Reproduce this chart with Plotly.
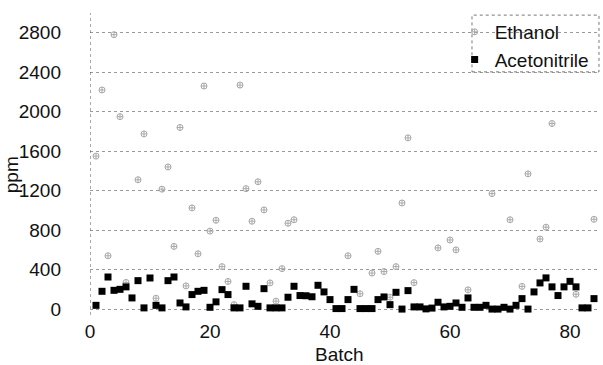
import plotly.graph_objects as go

batch = list(range(1, 85))

ethanol = [1550, 2220, 540, 2780, 1950, 270, None, 1310, 1775, None,
           110, 1215, 1440, 635, 1840, 235, 1025, 560, 2260, 790,
           900, 430, 280, 45, 2270, 1220, 890, 1290, 1005, 265,
           80, 410, 870, 905, None, None, None, None, None, None,
           None, None, 540, None, 155, None, 365, 585, 380, 120,
           430, 1075, 1735, 268, None, None, None, 620, None, 700,
           600, None, 195, None, None, None, 1170, None, None, 905,
           None, 230, 1370, None, 710, 830, 1880, None, None, None,
           150, None, None, 910]

acetonitrile = [38, 180, 325, 190, 200, 225, 113, 288, 12, 315,
                38, 12, 288, 325, 62, 22, 147, 180, 190, 18,
                73, 197, 147, 12, 12, 231, 53, 28, 207, 12,
                12, 12, 120, 231, 137, 135, 125, 241, 174, 96,
                5, 5, 96, 200, 5, 5, 5, 96, 123, 45,
                170, 0, 187, 22, 22, 2, 10, 69, 22, 28,
                62, 18, 113, 18, 18, 38, 0, 0, 18, 0,
                38, 106, 0, 174, 265, 316, 225, 137, 225, 281,
                225, 12, 12, 106]

y_ticks = [0, 400, 800, 1200, 1600, 2000, 2400, 2800]
x_ticks = [0, 20, 40, 60, 80]

FONT = "Liberation Sans, Arial, sans-serif"

fig = go.Figure()
fig.add_trace(go.Scatter(
    x=batch, y=ethanol, mode="markers", name="Ethanol",
    marker=dict(symbol="circle-cross-open", size=6, color="#a8a8a8",
                line=dict(width=1, color="#a8a8a8")),
))
fig.add_trace(go.Scatter(
    x=batch, y=acetonitrile, mode="markers", name="Acetonitrile",
    marker=dict(symbol="square", size=7, color="black",
                line=dict(width=0)),
))

fig.update_layout(
    width=603, height=365,
    margin=dict(l=90, r=3, t=13, b=50),
    paper_bgcolor="white", plot_bgcolor="white",
    font=dict(family=FONT, size=19, color="#111111"),
    showlegend=True,
    legend=dict(x=0.715, y=1.0, xanchor="left", yanchor="top",
                bgcolor="rgba(255,255,255,0)", borderwidth=0,
                font=dict(size=19), itemwidth=30, tracegroupgap=0),
    xaxis=dict(range=[0, 85], tickvals=x_ticks, showgrid=False,
               zeroline=False, showline=False, ticks="",
               ticklabelstandoff=3,
               tickfont=dict(size=19)),
    yaxis=dict(range=[-60, 3000], tickvals=y_ticks, showgrid=True,
               gridcolor="#9a9a9a", griddash="dot", gridwidth=1,
               zeroline=False, showline=False, ticks="",
               ticklabelstandoff=28,
               tickfont=dict(size=19)),
    annotations=[
        dict(text="Batch", xref="paper", yref="paper", x=0.49, y=-0.132,
             xanchor="center", yanchor="middle", showarrow=False,
             font=dict(size=19)),
        dict(text="ppm", xref="paper", yref="paper", x=-0.155, y=0.466,
             xanchor="center", yanchor="middle", showarrow=False,
             textangle=-90, font=dict(size=19)),
    ],
)

# dotted left axis line
fig.add_shape(type="line", xref="x", yref="paper", x0=0, x1=0, y0=0, y1=1,
              line=dict(color="#555555", width=1, dash="dot"))
# dotted legend frame
fig.add_shape(type="rect", xref="paper", yref="paper",
              x0=0.749, x1=0.998, y0=0.805, y1=0.993,
              line=dict(color="#777777", width=1, dash="dot"),
              fillcolor="rgba(0,0,0,0)")

fig.write_html("out.html",
               config={"displayModeBar": False},
               post_script="document.body.style.margin='0px';")
